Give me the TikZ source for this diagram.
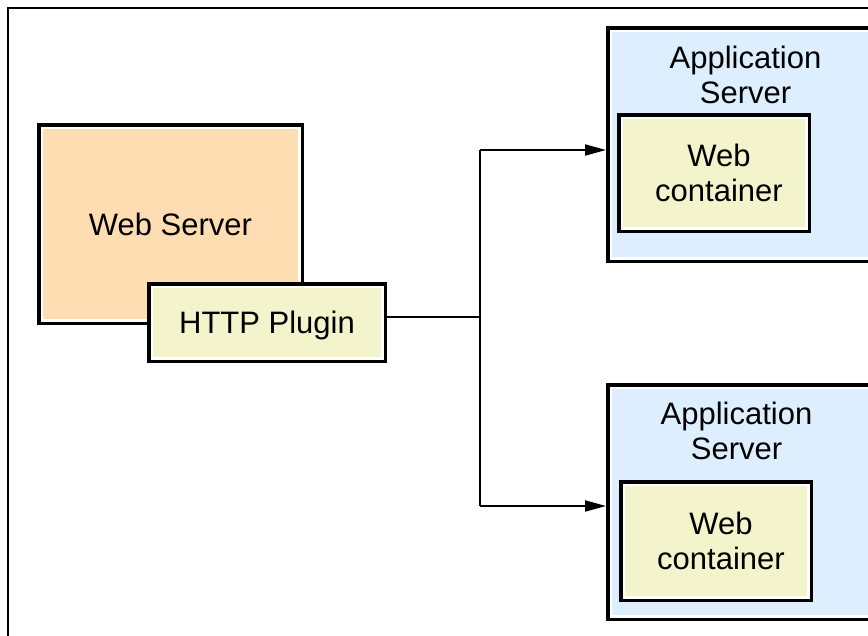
\documentclass[tikz,border=0pt]{standalone}
\usepackage{fontspec}
\setmainfont{Liberation Sans}
\usetikzlibrary{arrows.meta}
\usetikzlibrary{positioning}
\definecolor{peach}{HTML}{FDDDB1}
\definecolor{paleyellow}{HTML}{F3F4CB}
\definecolor{paleblue}{HTML}{DDEEFF}

\begin{document}
\begin{tikzpicture}[x=1pt, y=-1pt, font=\fontsize{31}{35}\selectfont,
    box/.style={draw=black, line width=3.5pt, fill=white, inner sep=0pt, align=center,
      path picture={\fill[#1] ([xshift=4.5pt, yshift=-4.5pt]path picture bounding box.north west)
        rectangle ([xshift=-4.5pt, yshift=4.5pt]path picture bounding box.south east);}},
    link/.style={line width=2pt},
    tip/.style={-{Triangle[length=21pt, width=11pt]}},
    title/.style={inner sep=0pt, align=center, anchor=north}]
        % Fix the page size and cut off what runs past it
        \useasboundingbox (0,0) rectangle (868,635);
        \clip (0,0) rectangle (868,635);
        \draw[line width=2pt] (8,8) rectangle (900,700);

        % Draw the web server with its plugin
        \node[box=peach, minimum width=263.5pt, minimum height=198.5pt] (web) at (170.5,224) {Web Server};
        \node[box=paleyellow, minimum width=236.5pt, minimum height=77.5pt, text depth=0pt] (plugin) at (267,322.5) {HTTP Plugin};

        % Draw the two application servers
        \node[box=paleblue, minimum width=275.5pt, minimum height=233.5pt] (app1) at (745.5,144.5) {};
        \node[title] (title1) at (745.5,46) {Application\\Server};
        \node[box=paleyellow, minimum width=190.5pt, minimum height=116.5pt] (cont1) at (714,173)
          {\hspace{10pt}Web\\\hspace{10pt}container};

        \node[box=paleblue, minimum width=275.5pt, minimum height=234.5pt] (app2) at (745.5,502) {};
        \node[title] (title2) at (736.5,402) {Application\\Server};
        \node[box=paleyellow, minimum width=190.5pt, minimum height=118.5pt] (cont2) at (716,541)
          {\hspace{10pt}Web\\\hspace{10pt}container};

        % Draw the links from the plugin to the servers
        \coordinate (split) at (480,317);
        \coordinate (upper) at (480,150);
        \coordinate (lower) at (480,506);
        \draw[link] (plugin.east |- split) -- (split);
        \draw[link] (upper) -- (lower);
        \draw[link, tip] (upper) -- (upper -| app1.west);
        \draw[link, tip] (lower) -- (lower -| app2.west);
      \end{tikzpicture}
\end{document}
